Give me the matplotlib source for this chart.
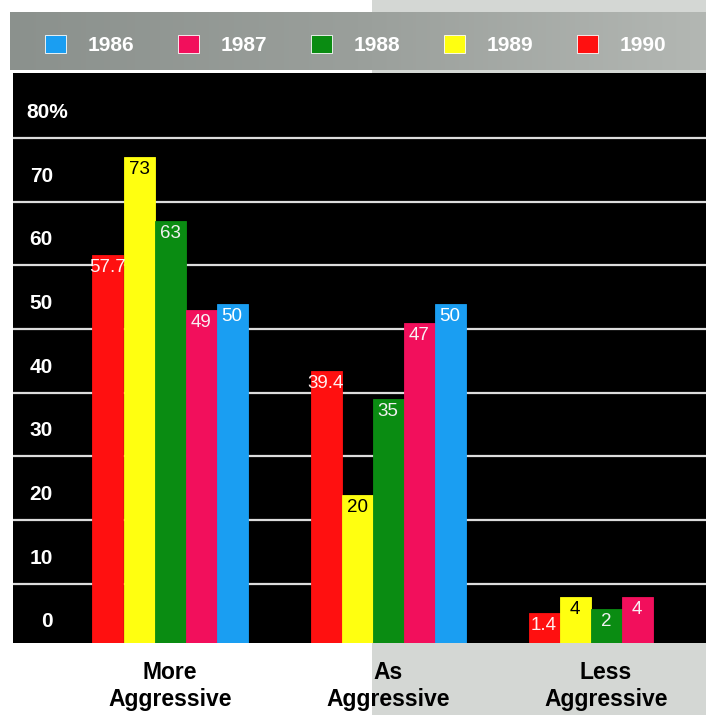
import numpy as np
import matplotlib
matplotlib.use("Agg")
import matplotlib.pyplot as plt
from matplotlib.patches import Patch, Rectangle
from matplotlib.transforms import blended_transform_factory, offset_copy
from matplotlib.colors import LinearSegmentedColormap

plt.rcParams['font.family'] = ['Liberation Sans', 'DejaVu Sans']

# ---- data ----
categories = ["More\nAggressive", "As\nAggressive", "Less\nAggressive"]
series_years = ["1990", "1989", "1988", "1987", "1986"]          # order of bars, left to right
series_colors = ["#ff1010", "#ffff10", "#0a8c12", "#f20f5c", "#1a9ef2"]
values_1990 = [57.7, 39.4, 1.4]
values_1989 = [73, 20, 4]
values_1988 = [63, 35, 2]
values_1987 = [49, 47, 4]
values_1986 = [50, 50, None]
value_labels_1990 = ["57.7", "39.4", "1.4"]
value_labels_1989 = ["73", "20", "4"]
value_labels_1988 = ["63", "35", "2"]
value_labels_1987 = ["49", "47", "4"]
value_labels_1986 = ["50", "50", ""]
label_colors = ["#fff0f0", "black", "#f0f0f0", "#f8f0f4", "white"]
legend_years = ["1986", "1987", "1988", "1989", "1990"]
legend_colors = ["#1a9ef2", "#f20f5c", "#0a8c12", "#ffff10", "#ff1010"]
ytick_values = [0, 10, 20, 30, 40, 50, 60, 70, 80]
ytick_labels = ["0", "10", "20", "30", "40", "50", "60", "70", "80%"]

series_values = [values_1990, values_1989, values_1988, values_1987, values_1986]
series_labels = [value_labels_1990, value_labels_1989, value_labels_1988,
                 value_labels_1987, value_labels_1986]

W, H = 706, 715
fig = plt.figure(figsize=(W / 100, H / 100), dpi=100)
fig.patch.set_facecolor("white")

# ---- background decoration (scan look) ----
bg = fig.add_axes([0, 0, 1, 1], zorder=0)
bg.axis("off")
bg.add_patch(Rectangle((372, 0), W - 372, H, facecolor="#d4d7d4", edgecolor="none"))
grad = np.linspace(0, 1, 256)[None, :]
band_cmap = LinearSegmentedColormap.from_list("band", ["#8b918d", "#9a9f9b", "#b3b7b3"])
bg.imshow(grad, extent=[10, W, 70, 12], aspect="auto", cmap=band_cmap, zorder=1)
bg.set_xlim(0, W)
bg.set_ylim(H, 0)

# ---- main axes ----
ax = fig.add_axes([13 / W, (H - 643) / H, (W - 13) / W, (643 - 73) / H], zorder=2)
ax.set_facecolor("black")
for s in ax.spines.values():
    s.set_visible(False)

ymin, ymax = -3.3, 86.2
ax.set_ylim(ymin, ymax)
spacing = 218.0
bar_w = 31.0 / spacing
centers = np.arange(len(categories))
ax.set_xlim((13 - 170) / spacing, (W - 170) / spacing)

# grid lines (drawn slightly below each tick value, as in the original)
for t in ytick_values[1:]:
    ax.axhline(t - 4.0, color="#dcdcdc", lw=1.6, zorder=1)

nser = len(series_years)
for i, (vals, labs, col, lcol) in enumerate(zip(series_values, series_labels,
                                                series_colors, label_colors)):
    offs = (i - (nser - 1) / 2) * bar_w
    for j, v in enumerate(vals):
        if v is None:
            continue
        x = centers[j] + offs
        ax.bar(x, v - ymin, bottom=ymin, width=bar_w, color=col,
               edgecolor=col, linewidth=0.6, zorder=2)
        tr = offset_copy(ax.transData, fig=fig, x=0, y=-3, units="points")
        ax.text(x, v, labs[j], ha="center", va="top", color=lcol,
                fontsize=13.5, transform=tr, zorder=3)

# y tick labels inside the black area
btr = blended_transform_factory(ax.transAxes, ax.transData)
for t, lab in zip(ytick_values, ytick_labels):
    if lab.endswith("%"):
        ax.text(13 / (W - 13), t, lab, ha="left", va="center", color="white",
                fontsize=15, fontweight="bold", transform=btr, zorder=3)
    else:
        ax.text(40 / (W - 13), t, lab, ha="right", va="center", color="white",
                fontsize=15, fontweight="bold", transform=btr, zorder=3)
ax.set_yticks([])

ax.set_xticks(centers)
ax.set_xticklabels(categories, fontsize=16.5, fontweight="bold", linespacing=1.2)
ax.tick_params(axis="x", length=0, pad=13)

# ---- legend ----
handles = [Patch(facecolor=c, edgecolor="white", linewidth=0.6) for c in legend_colors]
fig.legend(handles, legend_years, ncol=5, frameon=False,
           loc="center left", bbox_to_anchor=(45 / W, 1 - 45 / H),
           prop={"family": "Liberation Sans", "weight": "bold", "size": 15},
           labelcolor="white", handlelength=1.0, handleheight=0.95,
           handletextpad=1.05, columnspacing=2.1, borderpad=0, borderaxespad=0)

fig.savefig("out.png", dpi=100)
